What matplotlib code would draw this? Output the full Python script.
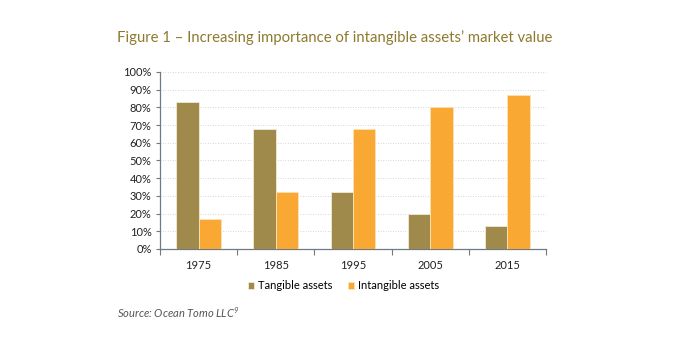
import matplotlib
matplotlib.use("Agg")
import matplotlib.pyplot as plt
import numpy as np
from matplotlib.ticker import PercentFormatter

years = ["1975", "1985", "1995", "2005", "2015"]
tangible = [83, 68, 32, 20, 13]
intangible = [17, 32, 68, 80, 87]

plt.rcParams["font.family"] = ["Lato", "DejaVu Sans"]

fig = plt.figure(figsize=(6.74, 3.5), dpi=100)
ax = fig.add_axes([0.2374, 0.2886, 0.5727, 0.5057])

x = np.arange(len(years))
w = 0.29
ax.bar(x - w / 2, tangible, w, color="#A08A4B", edgecolor="#F2EBD6",
       linewidth=0.6, label="Tangible assets", zorder=3)
ax.bar(x + w / 2, intangible, w, color="#F9A833", edgecolor="#FDE2B5",
       linewidth=0.6, label="Intangible assets", zorder=3)

ax.set_xlim(-0.5, len(years) - 0.5)
ax.set_ylim(0, 100)
ax.set_yticks(np.arange(0, 101, 10))
ax.yaxis.set_major_formatter(PercentFormatter(decimals=0))
ax.yaxis.grid(True, color="#C8C8C8", linestyle=(0, (1, 2)), linewidth=0.6, zorder=0)

ax.set_xticks(x)
ax.set_xticklabels(years)
ax.set_xticks(np.arange(-0.5, len(years), 1), minor=True)
ax.tick_params(axis="x", which="major", length=0, pad=8, labelsize=8, colors="#222222")
ax.tick_params(axis="x", which="minor", length=4, color="#6E7B85", width=0.8)
ax.tick_params(axis="y", length=3, color="#6E7B85", width=0.8, labelsize=8,
               labelcolor="#222222", pad=3)

for s in ["top", "right"]:
    ax.spines[s].set_visible(False)
for s in ["left", "bottom"]:
    ax.spines[s].set_color("#6E7B85")
    ax.spines[s].set_linewidth(0.9)

ax.legend(loc="upper center", bbox_to_anchor=(0.475, -0.12), ncol=2, frameon=False,
          fontsize=8, handlelength=0.6, handleheight=0.6, handletextpad=0.3,
          columnspacing=1.4)

fig.text(117 / 674, 1 - 38 / 350, "Figure 1 – Increasing importance of intangible assets’ market value",
         color="#8E7A2E", fontsize=10.7, va="center", ha="left")
fig.text(117 / 674, 1 - 313 / 350, "Source: Ocean Tomo LLC$^{\\mathregular{9}}$",
         color="#555555", fontsize=8, style="italic", va="center", ha="left")

fig.savefig("out.png", dpi=100)
